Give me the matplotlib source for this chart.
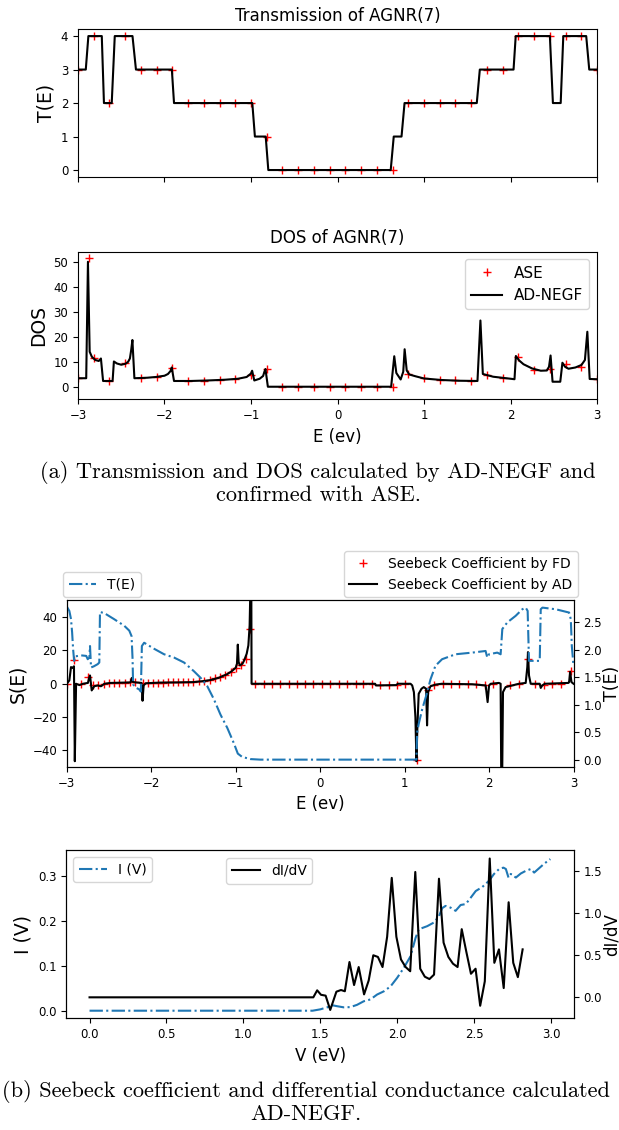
import numpy as np
import matplotlib
matplotlib.use("Agg")
import matplotlib.pyplot as plt

# ---- transmission of AGNR(7) ----
E_T = [-3.0, -2.91, -2.88, -2.725, -2.70, -2.61, -2.575, -2.37, -2.33, -1.915, -1.89,
       -0.985, -0.955, -0.83, -0.80, 0.615, 0.65, 0.74, 0.775, 1.61, 1.645, 2.035,
       2.06, 2.455, 2.49, 2.58, 2.61, 2.875, 2.91, 3.0]
T_ad = [3, 3, 4, 4, 2, 2, 4, 4, 3, 3, 2, 2, 1, 1, 0, 0, 1, 1, 2, 2, 3, 3, 4, 4, 2, 2,
        4, 4, 3, 3]

# ASE reference grid
E_ase = np.linspace(-3, 3, 34)
T_ase = [3, 4, 2, 4, 3, 3, 3, 2, 2, 2, 2, 2, 1, 0, 0, 0, 0, 0, 0, 0, 0, 2, 2, 2, 2, 2,
         3, 3, 4, 4, 4, 4, 4, 3]

# ---- DOS ----
E_dos = [-3.0, -2.905, -2.885, -2.865, -2.84, -2.80, -2.76, -2.735, -2.71, -2.60,
         -2.585, -2.55, -2.50, -2.45, -2.42, -2.40, -2.385, -2.371, -2.348, -2.2,
         -2.1, -2.0, -1.96, -1.93, -1.916, -1.89, -1.7, -1.5, -1.3, -1.15, -1.05,
         -1.0, -0.987, -0.962, -0.90, -0.86, -0.845, -0.833, -0.805, 0.62, 0.656,
         0.68, 0.73, 0.76, 0.776, 0.80, 0.83, 0.9, 1.0, 1.2, 1.4, 1.618, 1.652,
         1.68, 1.8, 2.0, 2.046, 2.062, 2.10, 2.15, 2.25, 2.35, 2.42, 2.445, 2.463,
         2.486, 2.575, 2.60, 2.63, 2.67, 2.75, 2.82, 2.86, 2.888, 2.915, 3.0]
dos_ad = [3.4, 3.4, 50.0, 14.0, 12.0, 10.7, 10.3, 11.3, 2.3, 2.3,
          10.1, 9.3, 8.8, 9.2, 10.0, 11.3, 14.7, 18.7, 3.4, 3.6,
          3.9, 4.4, 5.1, 6.3, 7.7, 2.3, 2.3, 2.5, 2.8, 3.2, 3.9,
          5.3, 6.4, 2.5, 3.2, 4.3, 6.0, 7.1, 0.0, 0.0, 12.2,
          5.5, 2.9, 6.0, 15.0, 6.5, 4.9, 4.2, 3.3, 2.7, 2.4, 2.3, 26.5,
          5.1, 4.0, 3.2, 3.0, 12.3, 10.5, 9.0, 7.3, 6.4, 6.5, 8.0, 12.5,
          2.0, 2.0, 9.6, 8.0, 7.2, 7.7, 8.7, 10.7, 22.0, 3.1, 3.0]
E_dos_ase = [-2.876] + list(E_ase)
dos_ase = [51.5, 3.3, 11.5, 2.3, 9.5, 3.5, 3.9, 7.3, 2.3, 2.4, 2.6, 3.0, 4.5, 7.2,
           0, 0, 0, 0, 0, 0, 0, 0, 5.0, 3.3, 2.7, 2.5, 2.3, 4.5, 3.5, 11.8, 6.8,
           7.0, 9.0, 7.8, 3.0]

# ---- Seebeck coefficient ----
E_S = [-3.00, -2.97, -2.95, -2.93, -2.915, -2.905, -2.89, -2.85, -2.81, -2.75,
       -2.735, -2.725, -2.705, -2.675, -2.635, -2.595, -2.555, -2.48, -2.245, -2.23,
       -2.215, -2.18, -2.115, -2.103, -2.09, -2.065, -1.9, -1.7, -1.5, -1.4, -1.3,
       -1.2, -1.1, -1.05, -1.0, -0.985, -0.975, -0.965, -0.95, -0.92, -0.90, -0.87,
       -0.85, -0.835, -0.825, -0.82, -0.812, 0.65, 0.66, 0.9, 0.92, 1.07, 1.09,
       1.11, 1.128, 1.14, 1.152, 1.167, 1.2, 1.227, 1.255, 1.266, 1.278, 1.306,
       1.365, 1.44, 1.8, 1.96, 1.983, 2.0, 2.02, 2.117, 2.137, 2.149, 2.165, 2.196,
       2.275, 2.354, 2.434, 2.453, 2.461, 2.473, 2.493, 2.6, 2.612, 2.63, 2.66,
       2.94, 2.948, 2.96, 2.976, 3.0]
S_ad = [0.0, 2.0, 10.0, 9.5, 10.5, -46.5, 0.0, -0.8, 0.0, 0.5,
        3.5, 5.0, -4.0, -1.5, -1.0, -1.5, 0.0, 0.5, 0.8, 3.5,
        1.0, 0.8, 0.5, -10.2, -1.0, 0.3, 0.7, 0.8, 1.0, 1.5, 2.2,
        3.6, 5.8, 7.4, 9.6, 12.0, 23.5, 13.0, 11.0, 12.0, 14.0, 18.0,
        23.0, 35.0, 60.0, 150.0, 0.0, 0.0, -1.0, -0.8, 0.0, 0.0, -1.0,
        -5.0, -20.0, -46.5, -25.0, -6.0, -3.0, -2.0, -3.0, -25.0, -5.0, -1.5,
        -0.5, 0.0, -0.3, -1.0, -11.0, -1.0, 0.0, 0.5, 0.0, -90.0, -5.0, -2.0,
        -1.0, 0.0, 0.5, 10.0, 19.0, 5.0, 0.0, 0.0, -2.5, -1.0, 0.0,
        0.5, 1.0, 7.2, 1.0, 0.0]

E_fd = [-3.0, -2.92, -2.83, -2.75, -2.69, -2.63, -2.56, -2.50, -2.44, -2.38, -2.31,
        -2.25, -2.19, -2.10, -2.04, -1.98, -1.92, -1.86, -1.80, -1.74, -1.68, -1.62,
        -1.56, -1.50, -1.44, -1.38, -1.31, -1.25, -1.19, -1.13, -1.06, -1.00, -0.94,
        -0.88, -0.83, -0.77, -0.67, -0.57, -0.47, -0.37, -0.28, -0.18, -0.08, 0.02,
        0.12, 0.22, 0.32, 0.42, 0.51, 0.61, 0.71, 0.81, 0.91, 1.01, 1.15, 1.28,
        1.35, 1.45, 1.55, 1.65, 1.75, 1.85, 1.95, 2.05, 2.25, 2.35, 2.46, 2.55,
        2.65, 2.75, 2.85, 2.97]
S_fd = [0.0, 14.0, 0.0, 4.0, -1.0, -1.0, 0.0, 0.5, 0.5, 0.5, 0.6,
        0.8, 0.8, 0.5, 0.3, 0.6, 0.7, 0.7, 0.8, 0.8, 0.8, 0.9,
        0.9, 1.0, 1.4, 1.9, 2.4, 3.2, 4.0, 5.0, 6.8, 9.6, 11.0,
        15.0, 33.0, 0.0, 0.0, 0.0, 0.0, 0.0, 0.0, 0.0, 0.0, 0.0,
        0.0, 0.0, 0.0, 0.0, 0.0, 0.0, -0.5, -0.8, -0.5, 0.0, -46.0, -4.0,
        -1.0, 0.0, 0.0, 0.0, -0.3, 0.0, -0.5, 0.0, -1.0, 0.0, 15.0, 0.0,
        -0.5, 0.0, 0.0, 7.5]

E_TS = [-3.0, -2.97, -2.95, -2.937, -2.925, -2.913, -2.905, -2.83, -2.77, -2.752,
        -2.733, -2.725, -2.713, -2.68, -2.634, -2.615, -2.607, -2.556, -2.44, -2.32,
        -2.26, -2.233, -2.221, -2.215, -2.18, -2.143, -2.123, -2.111, -2.084, -1.966,
        -1.848, -1.73, -1.612, -1.494, -1.415, -1.337, -1.258, -1.18, -1.10, -1.022,
        -0.975, -0.924, -0.825, -0.707, 1.14, 1.148, 1.167, 1.207, 1.266, 1.306,
        1.365, 1.444, 1.603, 1.80, 1.959, 1.979, 2.0, 2.097, 2.137, 2.145, 2.157,
        2.216, 2.315, 2.394, 2.434, 2.457, 2.473, 2.60, 2.612, 2.632, 2.79, 2.948,
        2.968, 2.98, 3.0]
T_S = [2.79, 2.71, 2.56, 2.32, 2.01, 1.80, 1.88, 1.90, 1.89, 1.83,
       1.86, 2.07, 1.68, 1.70, 1.74, 1.77, 2.69, 2.67, 2.56, 2.44,
       2.35, 2.25, 1.83, 1.37, 1.31, 1.28, 1.24, 2.07, 2.13, 2.02,
       1.92, 1.86, 1.77, 1.61, 1.49, 1.34, 1.10, 0.82, 0.58, 0.30,
       0.11, 0.05, 0.01, 0.0, 0.0, 0.49, 0.65, 0.91, 1.22, 1.46,
       1.71, 1.83, 1.92, 1.95, 1.98, 1.86, 1.92, 1.95, 1.92, 2.10, 2.38,
       2.50, 2.62, 2.74, 2.77, 2.71, 1.80, 1.80, 2.74, 2.77, 2.74, 2.68,
       2.56, 2.07, 1.71]

# ---- I-V and differential conductance ----
V_I = [0.0, 1.45, 1.50, 1.55, 1.565, 1.61, 1.652, 1.696, 1.739, 1.783, 1.826, 1.87,
       1.913, 1.957, 2.0, 2.043, 2.087, 2.12, 2.141, 2.196, 2.239, 2.272, 2.293,
       2.315, 2.348, 2.38, 2.413, 2.446, 2.478, 2.511, 2.554, 2.598, 2.63, 2.663,
       2.691, 2.707, 2.724, 2.739, 2.772, 2.804, 2.837, 2.87, 2.891, 2.924, 2.957,
       2.996]
I_V = [0.0, 0.0, 0.003, 0.008, 0.013, 0.010, 0.0075, 0.008, 0.013, 0.021, 0.025,
       0.036, 0.043, 0.054, 0.073, 0.095, 0.121, 0.162, 0.181, 0.188, 0.196, 0.21,
       0.228, 0.233, 0.229, 0.222, 0.235, 0.237, 0.251, 0.266, 0.275, 0.289, 0.304,
       0.315, 0.318, 0.315, 0.296, 0.304, 0.296, 0.305, 0.311, 0.315, 0.307, 0.317,
       0.327, 0.337]

V_G = [0.0, 1.455, 1.48, 1.505, 1.535, 1.565, 1.605, 1.635, 1.66, 1.69, 1.72, 1.75,
       1.785, 1.815, 1.845, 1.875, 1.905, 1.935, 1.965, 1.995, 2.025, 2.055, 2.085,
       2.118, 2.15, 2.18, 2.21, 2.24, 2.272, 2.302, 2.333, 2.363, 2.393, 2.42, 2.45,
       2.48, 2.51, 2.54, 2.57, 2.602, 2.632, 2.662, 2.693, 2.725, 2.755, 2.785,
       2.816]
dIdV = [0.0, 0.0, 0.083, 0.03, 0.02, -0.15, 0.067, 0.087, 0.072, 0.42, 0.146, 0.36,
        0.035, 0.2, 0.5, 0.48, 0.36, 0.72, 1.42, 0.72, 0.45, 0.36, 0.31,
        1.49, 0.34, 0.245, 0.217, 0.27, 1.41, 0.65, 0.48, 0.40, 0.36, 0.81, 0.54,
        0.28, 0.34, -0.1, 0.19, 1.65, 0.41, 0.57, 0.11, 1.13, 0.41, 0.24,
        0.57]

fig = plt.figure(figsize=(6.19, 11.3), dpi=100)
tick_fs = 8.5
lab_fs = 13.5
ms = 6
cap_fs = 16.1

# transmission
ax1 = fig.add_axes([0.126, 0.8436, 0.8385, 0.1304])
ax1.plot(E_ase, T_ase, '+', color='red', ms=ms)
ax1.plot(E_T, T_ad, color='black')
ax1.set_xlim(-3, 3)
ax1.set_ylim(-0.2, 4.2)
ax1.set_xticks([-3, -2, -1, 0, 1, 2, 3])
ax1.tick_params(labelbottom=False, labelsize=tick_fs)
ax1.set_title('Transmission of AGNR(7)', fontsize=12)
ax1.set_ylabel('T(E)', fontsize=lab_fs)

# DOS
ax2 = fig.add_axes([0.126, 0.6467, 0.8385, 0.1305])
ax2.plot(E_dos_ase, dos_ase, '+', color='red', ms=ms, label='ASE')
ax2.plot(E_dos, dos_ad, color='black', label='AD-NEGF')
ax2.set_xlim(-3, 3)
ax2.set_ylim(-5, 54)
ax2.set_xticks([-3, -2, -1, 0, 1, 2, 3])
ax2.set_yticks([0, 10, 20, 30, 40, 50])
ax2.tick_params(labelsize=tick_fs)
ax2.set_title('DOS of AGNR(7)', fontsize=12)
ax2.set_ylabel('DOS', fontsize=lab_fs)
ax2.set_xlabel('E (ev)', fontsize=12)
ax2.legend(loc='upper right', fontsize=11)

fig.text(0.514, 0.5823, '(a) Transmission and DOS calculated by AD-NEGF and',
         family='cmr10', fontsize=cap_fs, ha='center', va='center')
fig.text(0.514, 0.5619, 'confirmed with ASE.',
         family='cmr10', fontsize=cap_fs, ha='center', va='center')

# Seebeck coefficient with T(E) on the right axis
ax3 = fig.add_axes([0.1079, 0.3212, 0.8186, 0.1474])
ax3.plot(E_fd, S_fd, '+', color='red', ms=ms, label='Seebeck Coefficient by FD')
ax3.plot(E_S, S_ad, color='black', label='Seebeck Coefficient by AD')
ax3.set_xlim(-3, 3)
ax3.set_ylim(-50, 50)
ax3.set_xticks([-3, -2, -1, 0, 1, 2, 3])
ax3.set_yticks([-40, -20, 0, 20, 40])
ax3.tick_params(labelsize=tick_fs)
ax3.set_ylabel('S(E)', fontsize=lab_fs)
ax3.set_xlabel('E (ev)', fontsize=12)
ax3.legend(loc='lower right', bbox_to_anchor=(1.009, 1.02), borderaxespad=0,
           fontsize=10)

ax3b = ax3.twinx()
ax3b.plot(E_TS, T_S, '-.', color='tab:blue', label='T(E)')
ax3b.set_ylim(-0.135, 2.9)
ax3b.set_yticks([0.0, 0.5, 1.0, 1.5, 2.0, 2.5])
ax3b.tick_params(labelsize=tick_fs)
ax3b.set_ylabel('T(E)', fontsize=12.5, labelpad=1)
ax3b.legend(loc='lower left', bbox_to_anchor=(-0.0075, 1.02), borderaxespad=0,
            fontsize=10)

# current and differential conductance
ax4 = fig.add_axes([0.1074, 0.0988, 0.8199, 0.1489])
ax4.plot(V_I, I_V, '-.', color='tab:blue', label='I (V)')
ax4.set_xlim(-0.15, 3.15)
ax4.set_ylim(-0.017, 0.357)
ax4.set_yticks([0.0, 0.1, 0.2, 0.3])
ax4.tick_params(labelsize=tick_fs)
ax4.set_ylabel('I (V)', fontsize=lab_fs)
ax4.set_xlabel('V (eV)', fontsize=12)
ax4.legend(loc='upper left', fontsize=10)

ax4b = ax4.twinx()
ax4b.plot(V_G, dIdV, color='black', label='dI/dV')
ax4b.set_ylim(-0.25, 1.75)
ax4b.set_yticks([0.0, 0.5, 1.0, 1.5])
ax4b.tick_params(labelsize=tick_fs)
ax4b.set_ylabel('dI/dV', fontsize=12, labelpad=0)
ax4b.legend(loc='upper left', bbox_to_anchor=(0.315, 0.9507), borderaxespad=0,
            fontsize=10)

fig.text(0.494, 0.0345, '(b) Seebeck coefficient and differential conductance calculated',
         family='cmr10', fontsize=cap_fs, ha='center', va='center')
fig.text(0.494, 0.0142, 'AD-NEGF.',
         family='cmr10', fontsize=cap_fs, ha='center', va='center')

fig.savefig('out.png', dpi=100)
